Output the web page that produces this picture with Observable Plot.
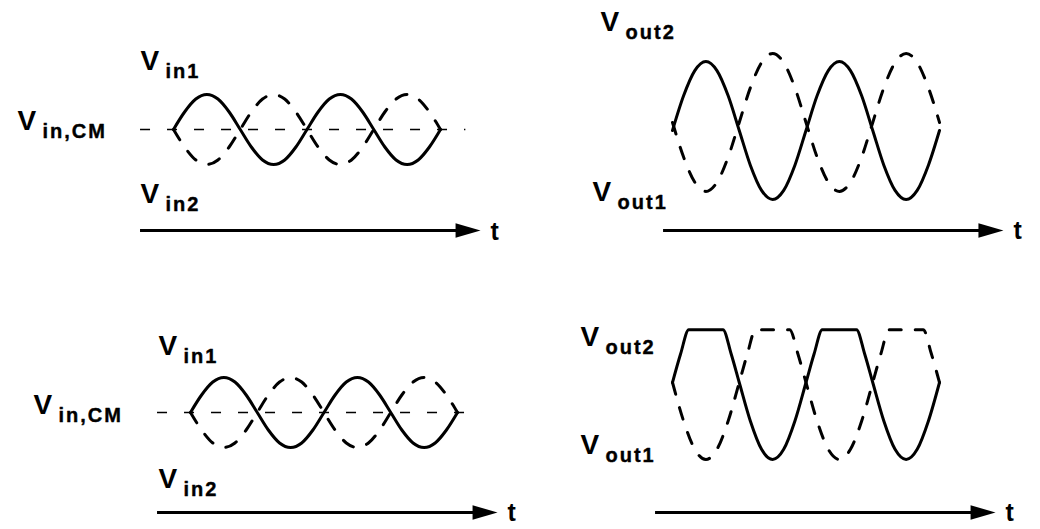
<!DOCTYPE html>
<html><head><meta charset="utf-8">
<script src="https://cdn.jsdelivr.net/npm/d3@7"></script>
<script src="https://cdn.jsdelivr.net/npm/@observablehq/plot@0.6"></script>
<style>
html,body{margin:0;padding:0;background:#fff;}
#fig{position:relative;width:1040px;height:529px;overflow:hidden;background:#fff;}
#fig svg{position:absolute;overflow:visible;}
</style></head><body><div id="fig"></div>
<script>
// ---- data (time in periods, voltage in units of the input amplitude) ----
const tSine = [0,0.083,0.167,0.25,0.333,0.417,0.5,0.583,0.667,0.75,0.833,0.917,1,1.083,1.167,1.25,1.333,1.417,1.5,1.583,1.667,1.75,1.833,1.917,2];
const vin1 = [0,0.5,0.87,1,0.87,0.5,0,-0.5,-0.87,-1,-0.87,-0.5,0,0.5,0.87,1,0.87,0.5,0,-0.5,-0.87,-1,-0.87,-0.5,0];
const vin2 = [0,-0.5,-0.87,-1,-0.87,-0.5,0,0.5,0.87,1,0.87,0.5,0,-0.5,-0.87,-1,-0.87,-0.5,0,0.5,0.87,1,0.87,0.5,0];
const voutLinSolid = [0,0.99,1.71,1.97,1.71,0.99,0,-0.99,-1.71,-1.97,-1.71,-0.99,0,0.99,1.71,1.97,1.71,0.99,0,-0.99,-1.71,-1.97,-1.71,-0.99,0];
const voutLinDashed = [0.23,-0.76,-1.48,-1.74,-1.48,-0.76,0.23,1.22,1.94,2.2,1.94,1.22,0.23,-0.76,-1.48,-1.74,-1.48,-0.76,0.23,1.22,1.94,2.2,1.94,1.22,0.23];
const tClipSolid = [0,0.061,0.122,0.25,0.378,0.439,0.5,0.583,0.667,0.75,0.833,0.917,1,1.061,1.122,1.25,1.378,1.439,1.5,1.583,1.667,1.75,1.833,1.917,2];
const voutClipSolid = [0,0.82,1.51,1.51,1.51,0.82,0,-1.1,-1.91,-2.2,-1.91,-1.1,0,0.82,1.51,1.51,1.51,0.82,0,-1.1,-1.91,-2.2,-1.91,-1.1,0];
const tClipDashed = [0,0.083,0.167,0.25,0.333,0.417,0.5,0.561,0.622,0.75,0.878,0.939,1,1.083,1.167,1.25,1.333,1.417,1.5,1.561,1.622,1.75,1.878,1.939,2];
const voutClipDashed = [0,-1.1,-1.91,-2.2,-1.91,-1.1,0,0.82,1.51,1.51,1.51,0.82,0,-1.1,-1.91,-2.2,-1.91,-1.1,0,0.82,1.51,1.51,1.51,0.82,0];
const inputSubs = ["in1", "in,CM", "in2"];
const outputSubs = ["out2", "out1"];
const timeLabel = "t";

// ---- layout ----
const KX = 133.5, KY = 35;
const FONT = "'Liberation Sans', Arial, Helvetica, sans-serif";
const series = (ts, vs) => ts.map((t, i) => ({t, v: vs[i]}));
const arrowHead = {draw(ctx, size) { const r = Math.sqrt(size / Math.PI); ctx.moveTo(0, 0); ctx.lineTo(-r, -r * 0.29); ctx.lineTo(-r, r * 0.29); ctx.closePath(); }};

function vLabel(t, v, sub) {
  return [
    Plot.text([sub], {x: () => t, y: () => v, text: () => "V", textAnchor: "start", lineAnchor: "bottom", fontSize: 28, fontWeight: "bold", fill: "black"}),
    Plot.text([sub], {x: () => t, y: () => v, text: d => d, dx: 25, dy: 8, textAnchor: "start", lineAnchor: "bottom", fontSize: 20, fontWeight: "bold", fill: "black", stroke: "black", strokeWidth: 0.4})
  ];
}
function timeAxis(t1, t2, v) {
  return [
    Plot.ruleY([v], {x1: () => t1, x2: () => t2 - 0.08, strokeWidth: 3, stroke: "black"}),
    Plot.dot([v], {x: () => t2, y: d => d, symbol: arrowHead, r: 25, fill: "black", stroke: "none"}),
    Plot.text([timeLabel], {x: () => t2, y: () => v, text: d => d, dx: 10, dy: 9, textAnchor: "start", lineAnchor: "bottom", fontSize: 25, fontWeight: "bold", fill: "black"})
  ];
}
function wave(data, dashed) {
  return Plot.line(data, {x: "t", y: "v", curve: "monotone-x", stroke: "black", strokeWidth: 3, strokeDasharray: dashed ? "12,14" : null});
}
function cmLine(t1, t2) {
  return Plot.ruleY([0], {x1: () => t1, x2: () => t2, stroke: "black", strokeWidth: 1.5, strokeDasharray: "10,17"});
}
function panel({left, top, width, height, x0, y0, marks}) {
  const svg = Plot.plot({
    width, height, margin: 0,
    x: {domain: [(left - x0) / KX, (left + width - x0) / KX], axis: null},
    y: {domain: [(y0 - top - height) / KY, (y0 - top) / KY], axis: null},
    style: {background: "transparent", overflow: "visible", fontFamily: FONT, letterSpacing: "2px", maxWidth: "none"},
    marks
  });
  svg.style.left = left + "px";
  svg.style.top = top + "px";
  document.getElementById("fig").appendChild(svg);
}

// top-left: small inputs
panel({left: 0, top: 0, width: 520, height: 264, x0: 173, y0: 129, marks: [
  cmLine(-0.247, 2.19),
  wave(series(tSine, vin2), true),
  wave(series(tSine, vin1), false),
  ...vLabel(-0.247, 1.686, inputSubs[0]),
  ...vLabel(-1.169, 0, inputSubs[1]),
  ...vLabel(-0.247, -2.11, inputSubs[2]),
  ...timeAxis(-0.247, 2.30, -2.886)
]});
// top-right: linear outputs
panel({left: 520, top: 0, width: 520, height: 264, x0: 672, y0: 130, marks: [
  wave(series(tSine, voutLinDashed), true),
  wave(series(tSine, voutLinSolid), false),
  ...vLabel(-0.539, 2.857, outputSubs[0]),
  ...vLabel(-0.599, -2.0, outputSubs[1]),
  ...timeAxis(-0.067, 2.479, -2.857)
]});
// bottom-left: inputs
panel({left: 0, top: 264, width: 520, height: 265, x0: 190, y0: 412, marks: [
  cmLine(-0.247, 2.18),
  wave(series(tSine, vin2), true),
  wave(series(tSine, vin1), false),
  ...vLabel(-0.240, 1.629, inputSubs[0]),
  ...vLabel(-1.176, -0.03, inputSubs[1]),
  ...vLabel(-0.240, -2.171, inputSubs[2]),
  ...timeAxis(-0.247, 2.30, -2.857)
]});
// bottom-right: clipped outputs
panel({left: 520, top: 264, width: 520, height: 265, x0: 672, y0: 382, marks: [
  wave(series(tClipDashed, voutClipDashed), true),
  wave(series(tClipSolid, voutClipSolid), false),
  ...vLabel(-0.689, 1.057, outputSubs[0]),
  ...vLabel(-0.689, -2.029, outputSubs[1]),
  ...timeAxis(-0.127, 2.42, -3.714)
]});
</script></body></html>
